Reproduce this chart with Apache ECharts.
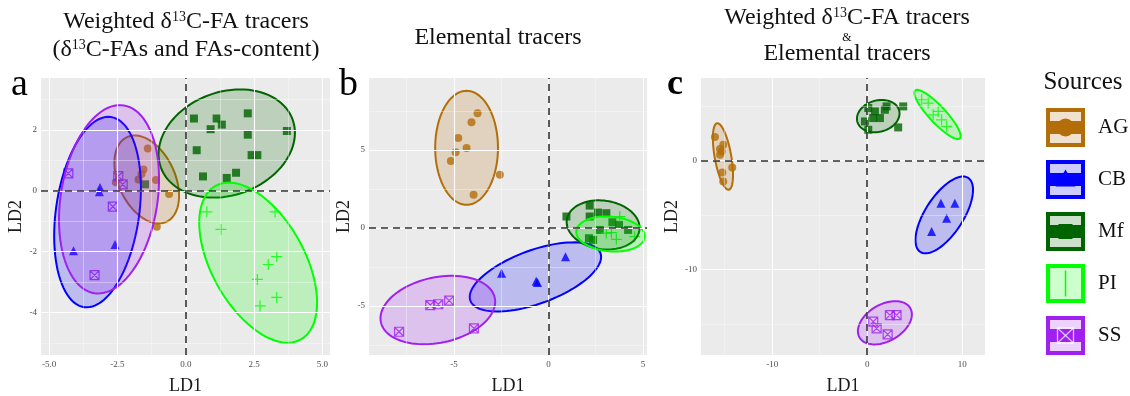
<!DOCTYPE html>
<html>
<head>
<meta charset="utf-8">
<script src="https://cdn.jsdelivr.net/npm/echarts@6/dist/echarts.min.js"></script>
<style>
  html, body { margin: 0; background: #fff; }
  #chart { width: 1130px; height: 396px; }
</style>
</head>
<body>
<div id="chart"></div>
<script>
// sources, colours
const SOURCES = ['AG', 'CB', 'Mf', 'PI', 'SS'];
const COLORS = ['#B36E0A', '#0000FF', '#006400', '#00FF00', '#A020F0'];

// panel a: weighted d13C-FA tracers
const AG_A = [[-1.39, 1.39], [-1.55, 0.70], [-1.62, 0.55], [-1.73, 0.37], [-1.09, 0.35], [-0.61, -0.11], [-1.06, -1.18], [-2.56, 0.28]];
const CB_A = [[-3.14, 0.11], [-3.16, -0.03], [-4.11, -1.97], [-2.59, -1.76]];
const MF_A = [[0.30, 2.37], [1.13, 2.37], [1.32, 2.17], [0.91, 2.02], [2.27, 2.54], [2.27, 1.84], [3.70, 1.96], [0.40, 1.33],
  [2.41, 1.17], [2.62, 1.17], [1.84, 0.59], [1.50, 0.42], [0.63, 0.47], [-1.49, 0.21]];
const PI_A = [[0.77, -0.69], [1.29, -1.27], [3.27, -0.69], [3.33, -2.16], [3.02, -2.42], [2.62, -2.91], [3.33, -3.50], [2.72, -3.78]];
const SS_A = [[-4.30, 0.57], [-2.47, 0.48], [-2.31, 0.21], [-2.67, -0.52], [-3.34, -2.77]];
// ellipses: centre x, centre y, then two conjugate semi-diameters (ux, uy, vx, vy)
const ELL_A = [[-1.43, 0.37, 0.72, -1.39, -0.94, -0.39], [-3.23, -0.70, 0.49, 3.12, 1.51, -0.19], [1.50, 1.55, 2.41, 0.79, 0.65, -1.59],
  [2.65, -2.36, 1.56, -2.52, -1.49, -0.74], [-2.81, -0.28, 0.54, 3.08, 1.75, -0.25]];

// panel b: elemental tracers
const AG_B = [[-3.75, 7.35], [-4.07, 6.77], [-4.77, 5.75], [-4.33, 5.11], [-4.91, 4.85], [-5.16, 4.29], [-2.57, 3.40], [-3.96, 2.12]];
const CB_B = [[-2.48, -2.91], [-0.58, -3.50], [-0.65, -3.42], [0.90, -1.84]];
const MF_B = [[2.18, 1.43], [0.95, 0.73], [2.62, 0.98], [3.06, 0.94], [2.18, 0.73], [3.38, 0.36], [3.73, 0.19], [4.21, -0.13],
  [2.71, -0.13], [2.14, -0.66], [2.36, -0.77]];
const PI_B = [[3.77, 0.73], [3.06, -0.34], [3.59, -0.73], [4.56, -0.56], [3.33, -0.30]];
const SS_B = [[-7.90, -6.65], [-6.25, -4.94], [-5.83, -4.89], [-5.25, -4.66], [-3.94, -6.43]];
const ELL_B = [[-4.33, 5.13, 0, 3.65, 1.66, 0], [-0.69, -3.14, 3.44, 1.52, 0.48, -1.61], [2.89, 0.19, 1.92, -0.33, -0.18, -1.54],
  [3.28, -0.39, 1.81, -0.19, -0.08, -1.11], [-5.85, -5.26, 3.01, 0.78, 0.36, -2.05]];

// panel c: both
const AG_C = [[-16.03, 2.15], [-15.16, 1.44], [-15.33, 0.83], [-15.5, 0.52], [-14.21, -0.64], [-15.26, -1.10], [-15.16, -1.93], [-15.5, 1.05]];
const CB_C = [[7.76, -3.92], [9.23, -3.92], [8.36, -5.30], [6.78, -6.53]];
const MF_C = [[0.11, 4.82], [0.81, 4.51], [2.04, 4.97], [3.79, 4.97], [3.26, 3.04], [0.11, 2.82], [-0.24, 3.59], [0.63, 3.90],
  [1.34, 3.90], [1.86, 4.66]];
const PI_C = [[5.73, 5.58], [6.42, 5.28], [7.47, 4.51], [6.95, 4.20], [7.83, 3.74], [8.36, 3.13]];
const SS_C = [[2.39, -14.2], [3.09, -14.2], [0.63, -14.81], [0.99, -15.42], [2.15, -15.97]];
const ELL_C = [[-15.19, 0.37, 0.62, -3.05, -0.86, -0.13], [8.11, -5.0, 2.52, 3.40, 1.68, -0.95], [1.16, 4.08, 2.20, 0.52, 0.43, -1.39],
  [7.40, 4.23, 2.35, -2.20, -0.64, -0.52], [1.86, -14.91, 2.67, 1.35, 0.97, -1.46]];

// axis limits and breaks
const X_RANGE_A = [-5.3, 5.28], Y_RANGE_A = [-5.39, 3.7];
const X_RANGE_B = [-9.49, 5.21], Y_RANGE_B = [-8.14, 9.6];
const X_RANGE_C = [-17.5, 12.4], Y_RANGE_C = [-17.87, 7.58];
const X_TICKS_A = [-5, -2.5, 0, 2.5, 5], X_MINOR_A = [-3.75, -1.25, 1.25, 3.75];
const Y_TICKS_A = [-4, -2, 0, 2], Y_MINOR_A = [-5, -3, -1, 1, 3];
const X_TICKS_B = [-5, 0, 5], X_MINOR_B = [-7.5, -2.5, 2.5];
const Y_TICKS_B = [-5, 0, 5], Y_MINOR_B = [-7.5, -2.5, 2.5, 7.5];
const X_TICKS_C = [-10, 0, 10], X_MINOR_C = [-15, -5, 5];
const Y_TICKS_C = [-10, 0], Y_MINOR_C = [-15, -5, 5];

const SERIF = 'Liberation Serif';
const SYMBOLS = ['circle', 'triangle', 'rect', 'path://M5,0L5,10M0,5L10,5', 'path://M0,0L10,0L10,10L0,10ZM0,0L10,10M10,0L0,10'];
const SYMBOL_SIZE = [8, 9, 8, 11, 9];

const hexA = (hex, a) => {
  const n = parseInt(hex.slice(1), 16);
  return `rgba(${(n >> 16) & 255},${(n >> 8) & 255},${n & 255},${a})`;
};

const panels = [
  {pts: [AG_A, CB_A, MF_A, PI_A, SS_A], ell: ELL_A, xr: X_RANGE_A, yr: Y_RANGE_A, xt: X_TICKS_A, xm: X_MINOR_A, yt: Y_TICKS_A, ym: Y_MINOR_A,
    xfmt: v => v.toFixed(1), grid: {left: 41, top: 78, width: 289, height: 277}},
  {pts: [AG_B, CB_B, MF_B, PI_B, SS_B], ell: ELL_B, xr: X_RANGE_B, yr: Y_RANGE_B, xt: X_TICKS_B, xm: X_MINOR_B, yt: Y_TICKS_B, ym: Y_MINOR_B,
    xfmt: v => String(v), grid: {left: 369, top: 78, width: 278, height: 277}},
  {pts: [AG_C, CB_C, MF_C, PI_C, SS_C], ell: ELL_C, xr: X_RANGE_C, yr: Y_RANGE_C, xt: X_TICKS_C, xm: X_MINOR_C, yt: Y_TICKS_C, ym: Y_MINOR_C,
    xfmt: v => String(v), grid: {left: 701, top: 78, width: 284, height: 277}}
];

const renderEllipse = (params, api) => {
  const cx = api.value(0), cy = api.value(1);
  const ux = api.value(2), uy = api.value(3), vx = api.value(4), vy = api.value(5);
  const color = COLORS[api.value(6)];
  const points = [];
  for (let i = 0; i < 96; i++) {
    const t = i / 96 * Math.PI * 2;
    points.push(api.coord([cx + Math.cos(t) * ux + Math.sin(t) * vx, cy + Math.cos(t) * uy + Math.sin(t) * vy]));
  }
  return {
    type: 'polygon',
    shape: {points: points},
    style: {fill: hexA(color, 0.2), stroke: color, lineWidth: 2}
  };
};

const series = [];
panels.forEach((p, i) => {
  const major = {color: '#ffffff', width: 1.1, type: 'solid'};
  const minor = {color: 'rgba(255,255,255,0.6)', width: 0.6, type: 'solid'};
  series.push({
    type: 'scatter', xAxisIndex: i, yAxisIndex: i, data: [], z: 1, silent: true,
    markLine: {
      silent: true, symbol: ['none', 'none'], label: {show: false}, animation: false,
      data: [
        ...p.xm.map(v => ({xAxis: v, lineStyle: minor})),
        ...p.ym.map(v => ({yAxis: v, lineStyle: minor})),
        ...p.xt.map(v => ({xAxis: v, lineStyle: major})),
        ...p.yt.map(v => ({yAxis: v, lineStyle: major}))
      ]
    }
  });
  series.push({
    type: 'scatter', xAxisIndex: i, yAxisIndex: i, data: [], z: 2, silent: true,
    markLine: {
      silent: true, symbol: ['none', 'none'], label: {show: false}, animation: false,
      lineStyle: {color: '#333', width: 1.6, type: [7, 5]},
      data: [{xAxis: 0}, {yAxis: 0}]
    }
  });
  p.pts.forEach((pts, s) => {
    const stroked = s >= 3;
    series.push({
      type: 'scatter', name: SOURCES[s], xAxisIndex: i, yAxisIndex: i, z: 3,
      symbol: SYMBOLS[s], symbolSize: SYMBOL_SIZE[s],
      itemStyle: stroked
        ? {color: 'transparent', borderColor: COLORS[s], borderWidth: 1.2}
        : {color: COLORS[s]},
      data: pts
    });
  });
  series.push({
    type: 'custom', xAxisIndex: i, yAxisIndex: i, z: 4, silent: true,
    renderItem: renderEllipse, encode: {x: 0, y: 1},
    data: p.ell.map((e, s) => [...e, s])
  });
});

const axisTitle = {fontFamily: SERIF, fontSize: 18, color: '#1a1a1a'};
const tickLabel = {color: '#4d4d4d', fontSize: 9, fontFamily: SERIF};

const rich = {
  n: {fontFamily: SERIF, fontSize: 24, color: '#111'},
  s: {fontFamily: SERIF, fontSize: 14, color: '#111', verticalAlign: 'top'}
};
const titleText = (x, y, text) => ({
  type: 'text', x: x, y: y, silent: true,
  style: {text: text, rich: rich, align: 'center', verticalAlign: 'middle', fontFamily: SERIF, fontSize: 24, fill: '#111'}
});

const graphics = [
  titleText(186, 22, '{n|Weighted δ}{s|13}{n|C-FA tracers}'),
  titleText(186, 50, '{n|(δ}{s|13}{n|C-FAs and FAs-content)}'),
  titleText(498, 38, '{n|Elemental tracers}'),
  titleText(847, 18, '{n|Weighted δ}{s|13}{n|C-FA tracers}'),
  {type: 'text', x: 847, y: 38, silent: true, style: {text: '&', align: 'center', verticalAlign: 'middle', fontFamily: SERIF, fontSize: 12, fill: '#111'}},
  titleText(847, 54, '{n|Elemental tracers}'),
  {type: 'text', x: 11, y: 85, style: {text: 'a', verticalAlign: 'middle', fontFamily: SERIF, fontSize: 38, fill: '#000'}},
  {type: 'text', x: 339, y: 85, style: {text: 'b', verticalAlign: 'middle', fontFamily: SERIF, fontSize: 38, fill: '#000'}},
  {type: 'text', x: 667, y: 85, style: {text: 'c', verticalAlign: 'middle', fontFamily: SERIF, fontSize: 36, fontWeight: 'bold', fill: '#000'}},
  {type: 'text', x: 1083, y: 82, style: {text: 'Sources', align: 'center', verticalAlign: 'middle', fontFamily: SERIF, fontSize: 25, fill: '#111'}}
];

// legend keys
SOURCES.forEach((name, s) => {
  const top = 108 + s * 52;
  const cy = top + 19.5;
  const c = COLORS[s];
  graphics.push({type: 'rect', shape: {x: 1048, y: top + 2, width: 35, height: 35}, style: {fill: hexA(c, 0.2), stroke: c, lineWidth: 4}});
  if (s === 3) {
    graphics.push({type: 'line', shape: {x1: 1065.5, y1: cy - 13, x2: 1065.5, y2: cy + 13}, style: {stroke: c, lineWidth: 1.5}});
  } else {
    graphics.push({type: 'rect', shape: {x: 1048, y: cy - 6.5, width: 35, height: 13}, style: {fill: c}});
  }
  if (s === 0) graphics.push({type: 'circle', shape: {cx: 1065.5, cy: cy, r: 9}, style: {fill: c}});
  if (s === 1) graphics.push({type: 'polygon', shape: {points: [[1065.5, cy - 10], [1075.5, cy + 7], [1055.5, cy + 7]]}, style: {fill: c}});
  if (s === 2) graphics.push({type: 'rect', shape: {x: 1058.5, y: cy - 7.5, width: 14, height: 15}, style: {fill: c}});
  if (s === 4) {
    graphics.push({type: 'rect', shape: {x: 1057.5, y: cy - 7.5, width: 16, height: 15}, style: {fill: 'none', stroke: hexA('#ffffff', 0.7), lineWidth: 1.3}});
    graphics.push({type: 'polyline', shape: {points: [[1057.5, cy - 7.5], [1073.5, cy + 7.5]]}, style: {stroke: hexA('#ffffff', 0.7), lineWidth: 1.3}});
    graphics.push({type: 'polyline', shape: {points: [[1073.5, cy - 7.5], [1057.5, cy + 7.5]]}, style: {stroke: hexA('#ffffff', 0.7), lineWidth: 1.3}});
  }
  graphics.push({type: 'text', x: 1098, y: cy, style: {text: name, verticalAlign: 'middle', fontFamily: SERIF, fontSize: 21, fill: '#111'}});
});

const chart = echarts.init(document.getElementById('chart'));
chart.setOption({
  animation: false,
  grid: panels.map(p => Object.assign({show: true, backgroundColor: '#EBEBEB', borderWidth: 0, containLabel: false, outerBoundsMode: 'none'}, p.grid)),
  xAxis: panels.map((p, i) => ({
    gridIndex: i, type: 'value', min: p.xr[0], max: p.xr[1],
    splitLine: {show: false}, axisLine: {show: false},
    axisTick: {show: true, length: 3, lineStyle: {color: '#333'}, customValues: p.xt},
    axisLabel: Object.assign({customValues: p.xt, formatter: p.xfmt, margin: 5}, tickLabel),
    name: 'LD1', nameLocation: 'middle', nameGap: 22, nameTextStyle: axisTitle
  })),
  yAxis: panels.map((p, i) => ({
    gridIndex: i, type: 'value', min: p.yr[0], max: p.yr[1],
    splitLine: {show: false}, axisLine: {show: false},
    axisTick: {show: true, length: 3, lineStyle: {color: '#333'}, customValues: p.yt},
    axisLabel: Object.assign({customValues: p.yt, formatter: v => String(v), margin: 4}, tickLabel),
    name: 'LD2', nameLocation: 'middle', nameGap: 15, nameTextStyle: axisTitle
  })),
  graphic: graphics,
  series: series
});
</script>
</body>
</html>
